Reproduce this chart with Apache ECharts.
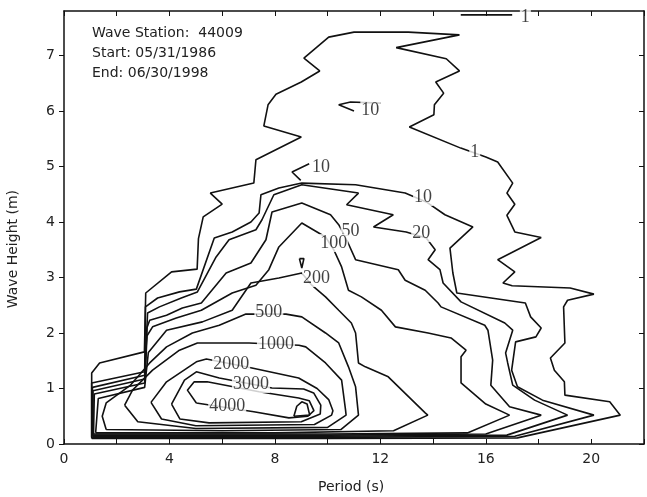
<!DOCTYPE html>
<html><head><meta charset="utf-8">
<script src="https://cdn.jsdelivr.net/npm/echarts@6/dist/echarts.min.js"></script>
<style>html,body{margin:0;padding:0;background:#fff}#c{width:647px;height:497px}</style>
</head><body><div id="c"></div>
<script>
// ---- tick labels ----
const xTickLabels = [0, 4, 8, 12, 16, 20];
const yTickLabels = [0, 1, 2, 3, 4, 5, 6, 7];

// ---- contour lines: [period (s), wave height (m)] ----
const c1 = [[1.05,0.1],[1.05,1.28],[1.35,1.46],[3.05,1.66],[3.1,2.72],[4.08,3.1],[5.05,3.15],[5.1,3.7],[5.28,4.09],[6.0,4.32],[5.55,4.52],[7.2,4.7],[7.28,5.12],[9.0,5.53],[7.58,5.73],[7.74,6.11],[8.04,6.3],[9.0,6.52],[9.7,6.72],[9.1,6.95],[10.04,7.33],[11.0,7.42],[13.06,7.42],[15.0,7.37],[12.6,7.14],[14.5,6.94],[15.0,6.72],[14.1,6.52],[14.4,6.32],[14.05,6.11],[14.03,5.93],[13.1,5.71],[15.05,5.33],[16.0,5.17],[16.45,5.08],[17.02,4.7],[16.8,4.52],[17.1,4.32],[16.8,4.12],[17.1,3.82],[18.1,3.72],[16.45,3.32],[17.1,3.1],[16.65,2.9],[17.0,2.85],[19.2,2.81],[20.1,2.7],[19.1,2.59],[18.95,2.47],[19.0,1.82],[18.45,1.55],[18.6,1.33],[18.98,1.12],[19.0,0.88],[20.7,0.76],[21.1,0.52],[17.2,0.11],[10,0.1],[4,0.1],[1.05,0.1]];
const c1top = [[15.05,7.73],[17.0,7.73]];
const c10 = [[1.05,0.12],[1.05,1.1],[3.06,1.3],[3.09,2.47],[3.55,2.63],[4.38,2.74],[5.02,2.79],[5.7,3.71],[6.38,3.82],[7.09,4.0],[7.4,4.16],[7.47,4.49],[8.15,4.61],[9.02,4.7],[11.06,4.67],[12.94,4.52],[13.74,4.36],[14.45,4.13],[15.51,3.91],[14.64,3.53],[14.75,3.08],[14.9,2.72],[17.5,2.54],[17.7,2.29],[18.1,2.09],[17.9,1.93],[17.13,1.84],[16.98,1.33],[17.2,1.03],[18.15,0.79],[20.1,0.52],[17.1,0.14],[10,0.12],[4,0.12],[1.05,0.12]];
const c10a = [[9.3,5.05],[8.65,4.9],[8.98,4.75]];
const c10b = [[11.0,6.0],[10.42,6.11],[10.87,6.16],[12.0,6.14]];
const c20 = [[1.08,0.14],[1.08,1.02],[3.06,1.24],[3.17,2.36],[3.62,2.47],[4.45,2.63],[5.06,2.74],[5.77,3.37],[6.26,3.68],[7.28,3.86],[7.51,4.04],[7.96,4.49],[9.02,4.67],[11.17,4.52],[10.72,4.31],[12.49,4.13],[11.74,3.91],[12.98,3.82],[13.74,3.71],[14.08,3.5],[13.81,3.32],[14.26,3.14],[14.38,2.9],[15.06,2.56],[16.72,2.18],[17.02,2.05],[16.75,1.64],[16.83,1.46],[17.02,1.06],[17.85,0.79],[19.1,0.52],[16.8,0.16],[10,0.14],[4,0.14],[1.08,0.14]];
const c50 = [[1.1,0.16],[1.1,0.96],[3.06,1.17],[3.15,2.1],[3.25,2.23],[3.89,2.32],[4.49,2.45],[5.21,2.54],[6.15,3.08],[7.09,3.26],[7.66,3.68],[7.89,4.18],[9.02,4.34],[10.11,4.13],[10.42,3.95],[10.72,3.68],[11.06,3.32],[12.68,3.14],[12.94,2.95],[13.7,2.77],[14.19,2.54],[14.3,2.47],[15.96,2.14],[16.08,2.05],[16.26,1.51],[16.19,1.06],[16.9,0.67],[18.1,0.52],[16.0,0.18],[10,0.16],[4,0.16],[1.1,0.16]];
const c100 = [[1.12,0.18],[1.15,0.9],[3.06,1.1],[3.15,1.95],[3.36,2.11],[4.26,2.27],[5.21,2.41],[6.38,2.72],[7.28,2.86],[7.77,3.14],[8.15,3.55],[9.02,3.98],[9.92,3.73],[10.23,3.5],[10.53,3.19],[10.79,2.77],[11.28,2.65],[12.04,2.41],[12.57,2.11],[13.81,2.0],[14.68,1.91],[15.25,1.69],[15.06,1.57],[15.06,1.1],[16.0,0.72],[16.9,0.52],[15.3,0.2],[10,0.18],[4,0.18],[1.12,0.18]];
const c200 = [[1.2,0.2],[1.3,0.82],[3.06,1.02],[3.2,1.65],[3.89,2.05],[5.25,2.2],[6.38,2.41],[7.09,2.9],[8.15,2.99],[9.02,3.08],[9.4,2.86],[9.92,2.65],[10.42,2.41],[10.9,2.18],[11.06,2.0],[11.17,1.46],[11.43,1.39],[12.3,1.21],[13.7,0.56],[13.8,0.52],[12.5,0.24],[8,0.2],[4,0.2],[1.2,0.2]];
const c200b = [[8.93,3.34],[9.1,3.34],[9.02,3.17],[8.93,3.34]];
const c500 = [[1.6,0.26],[1.45,0.5],[1.6,0.74],[2.5,1.05],[3.25,1.46],[3.89,1.75],[4.87,2.0],[5.89,2.14],[6.9,2.34],[8.42,2.34],[9.02,2.29],[9.92,2.0],[10.42,1.82],[10.79,1.39],[11.06,1.03],[11.17,0.52],[10.5,0.26],[6,0.24],[1.6,0.26]];
const c1000 = [[2.3,0.7],[2.6,0.97],[3.36,1.33],[4.38,1.69],[5.06,1.82],[7.02,1.82],[8.91,1.78],[9.17,1.75],[9.92,1.46],[10.53,1.15],[10.68,0.61],[10.7,0.52],[10.0,0.3],[5.0,0.28],[2.8,0.4],[2.3,0.7]];
const c2000 = [[3.3,0.75],[3.89,1.12],[5.02,1.48],[5.4,1.53],[7.13,1.37],[8.9,1.19],[9.6,1.0],[10.04,0.8],[10.2,0.6],[10.15,0.52],[9.5,0.35],[5.0,0.33],[3.7,0.45],[3.3,0.75]];
const c3000 = [[4.08,0.72],[4.57,1.15],[5.02,1.3],[5.89,1.19],[7.89,1.01],[9.09,0.99],[9.47,0.92],[9.74,0.7],[9.72,0.54],[9.0,0.4],[5.5,0.38],[4.4,0.45],[4.08,0.72]];
const c4000 = [[5.02,0.74],[4.68,0.97],[4.94,1.12],[5.43,1.12],[7.4,0.94],[8.9,0.83],[9.3,0.78],[9.48,0.6],[9.25,0.5],[8.53,0.47],[7.2,0.58],[5.02,0.74]];
const c4000b = [[8.72,0.5],[8.83,0.68],[9.02,0.76],[9.22,0.72],[9.32,0.52],[8.72,0.5]];

// ---- contour level labels: [period, height, text] ----
const levelLabels = [
  [17.5,7.68,'1'],[15.58,5.26,'1'],[9.75,4.98,'10'],[11.62,6.02,'10'],[13.62,4.45,'10'],
  [13.55,3.8,'20'],[10.87,3.84,'50'],[10.23,3.62,'100'],[9.58,2.99,'200'],[7.77,2.38,'500'],
  [8.04,1.8,'1000'],[6.34,1.44,'2000'],[7.09,1.08,'3000'],[6.19,0.68,'4000']
];

const contourList = [c1,c1top,c10,c10a,c10b,c20,c50,c100,c200,c200b,c500,c1000,c2000,c3000,c4000,c4000b];

const SANS = 'DejaVu Sans';
const chart = echarts.init(document.getElementById('c'), null, {renderer:'canvas'});
const series = contourList.map(d => ({
  type:'line', data:d, symbol:'none', showSymbol:false, silent:true, animation:false,
  lineStyle:{color:'#111', width:1.6}, z:2
}));
series.push({
  type:'scatter', data:levelLabels, symbolSize:0, silent:true, animation:false, z:5,
  label:{show:true, position:'inside', formatter:p=>p.data[2], fontFamily:'Liberation Serif',
    fontSize:18, color:'#111', backgroundColor:'#fff', padding:[0,1,0,1]}
});
const axisLineStyle = {color:'#111', width:1.5};
chart.setOption({
  animation:false,
  grid:{left:64, right:1, top:11, bottom:53, containLabel:false},
  xAxis:[
    {type:'value', min:0, max:22, interval:2, position:'bottom',
     axisLine:{onZero:false, lineStyle:axisLineStyle}, axisTick:{inside:true, length:5, lineStyle:{color:'#111'}},
     axisLabel:{formatter:v=>xTickLabels.includes(v)?String(v):'', color:'#222', fontSize:14, fontFamily:SANS, margin:8},
     splitLine:{show:false}},
    {type:'value', min:0, max:22, interval:2, position:'top',
     axisLine:{onZero:false, lineStyle:axisLineStyle}, axisTick:{inside:true, length:5, lineStyle:{color:'#111'}},
     axisLabel:{show:false}, splitLine:{show:false}}
  ],
  yAxis:[
    {type:'value', min:0, max:7.8, interval:1, position:'left',
     axisLine:{show:true, onZero:false, lineStyle:axisLineStyle},
     axisTick:{show:true, inside:false, length:5, lineStyle:{color:'#111'}, customValues:yTickLabels},
     axisLabel:{formatter:v=>yTickLabels.includes(v)?String(v):'', color:'#222', fontSize:14, fontFamily:SANS, margin:9, customValues:yTickLabels},
     splitLine:{show:false}},
    {type:'value', min:0, max:7.8, interval:1, position:'right',
     axisLine:{show:true, onZero:false, lineStyle:axisLineStyle},
     axisTick:{show:true, inside:true, length:5, lineStyle:{color:'#111'}, customValues:yTickLabels},
     axisLabel:{show:false}, splitLine:{show:false}}
  ],
  graphic:[
    {type:'text', left:92, top:23, style:{text:'Wave Station:  44009\nStart: 05/31/1986\nEnd: 06/30/1998', font:'14px "DejaVu Sans"', fill:'#222', lineHeight:20}},
    {type:'text', left:318, top:480, style:{text:'Period (s)', font:'14px "DejaVu Sans"', fill:'#222'}},
    {type:'text', left:6, top:190, rotation:Math.PI/2, style:{text:'Wave Height (m)', font:'14px "DejaVu Sans"', fill:'#222'}}
  ],
  series
});
</script></body></html>
